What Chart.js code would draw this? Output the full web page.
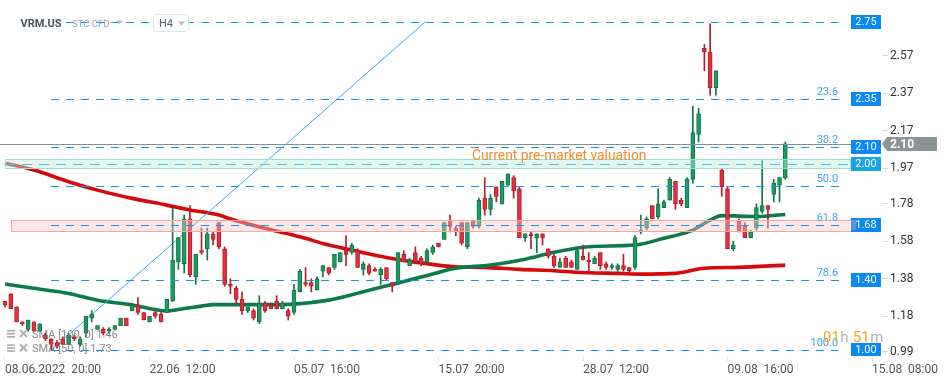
<!DOCTYPE html>
<html><head><meta charset="utf-8">
<script src="https://cdn.jsdelivr.net/npm/chart.js@4.4.1/dist/chart.umd.min.js"></script>
<style>html,body{margin:0;padding:0;background:#fff;overflow:hidden}#wrap{width:949px;height:381px}</style>
</head><body><div id="wrap"><canvas id="c" width="949" height="381"></canvas></div>
<script>
// ---------- data ----------
const xTickIdx = [0, 25, 50, 75, 100, 125, 150];
const xTickLabels = ['08.06.2022  20:00', '22.06  12:00', '05.07  16:00', '15.07  20:00', '28.07  12:00', '09.08  16:00', '15.08  08:00'];
const yTickVals = [0.99, 1.18, 1.38, 1.58, 1.78, 1.97, 2.17, 2.37, 2.57];

const opens = [1.26,1.30,1.23,1.15,1.11,1.15,1.10,1.08,1.06,1.04,
1.06,1.03,1.07,1.03,1.09,1.17,1.11,1.11,1.10,1.11,
1.13,1.17,1.21,1.24,1.20,1.15,1.20,1.19,1.20,1.26,
1.47,1.46,1.70,1.39,1.53,1.54,1.62,1.68,1.54,1.35,
1.33,1.27,1.21,1.21,1.15,1.25,1.24,1.26,1.22,1.21,
1.20,1.31,1.36,1.36,1.32,1.42,1.44,1.44,1.47,1.53,
1.52,1.53,1.43,1.45,1.43,1.40,1.44,1.36,1.35,1.51,
1.45,1.52,1.49,1.47,1.52,1.57,1.59,1.69,1.65,1.68,
1.55,1.69,1.66,1.81,1.75,1.87,1.78,1.88,1.92,1.86,
1.60,1.62,1.60,1.62,1.54,1.50,1.44,1.49,1.47,1.43,
1.50,1.48,1.46,1.52,1.46,1.44,1.43,1.45,1.44,1.44,
1.63,1.65,1.77,1.71,1.76,1.80,1.90,1.80,1.76,1.91,
2.15,2.61,2.59,2.40,1.96,1.86,1.54,1.69,1.66,1.60,
1.65,1.74,1.77,1.83,1.88,1.92];
const highs = [1.26,1.30,1.23,1.15,1.16,1.15,1.14,1.09,1.06,1.05,
1.07,1.09,1.08,1.07,1.18,1.21,1.13,1.12,1.12,1.13,
1.17,1.17,1.25,1.28,1.20,1.18,1.21,1.20,1.27,1.76,
1.60,1.72,1.77,1.51,1.65,1.65,1.63,1.68,1.55,1.38,
1.34,1.31,1.23,1.22,1.29,1.26,1.25,1.29,1.26,1.22,
1.35,1.43,1.44,1.38,1.39,1.45,1.44,1.51,1.52,1.61,
1.57,1.54,1.47,1.46,1.44,1.44,1.44,1.36,1.52,1.53,
1.49,1.55,1.50,1.54,1.56,1.57,1.68,1.72,1.66,1.68,
1.68,1.69,1.81,1.92,1.83,1.87,1.90,1.94,1.93,1.87,
1.62,1.63,1.62,1.62,1.54,1.51,1.49,1.50,1.48,1.54,
1.56,1.52,1.50,1.52,1.47,1.46,1.46,1.51,1.44,1.61,
1.72,1.71,1.77,1.86,1.80,1.92,1.90,1.81,1.92,2.30,
2.29,2.63,2.74,2.49,1.97,1.87,1.58,1.70,1.68,1.64,
1.78,2.01,1.77,1.91,1.92,2.11];
const lows = [1.23,1.22,1.15,1.13,1.10,1.10,1.10,1.05,1.00,1.01,
1.03,1.03,1.05,1.02,1.07,1.15,1.11,1.08,1.09,1.11,
1.13,1.13,1.21,1.19,1.16,1.15,1.17,1.15,1.20,1.26,
1.43,1.41,1.39,1.35,1.51,1.48,1.56,1.54,1.34,1.30,
1.25,1.19,1.20,1.16,1.14,1.20,1.22,1.22,1.22,1.16,
1.19,1.31,1.34,1.31,1.32,1.39,1.40,1.43,1.47,1.45,
1.51,1.44,1.40,1.40,1.42,1.35,1.37,1.31,1.35,1.47,
1.45,1.46,1.45,1.46,1.51,1.55,1.59,1.63,1.61,1.56,
1.54,1.65,1.65,1.72,1.72,1.79,1.78,1.88,1.81,1.60,
1.58,1.54,1.52,1.56,1.49,1.44,1.44,1.44,1.44,1.43,
1.48,1.42,1.46,1.43,1.43,1.43,1.42,1.42,1.41,1.43,
1.62,1.64,1.70,1.70,1.76,1.80,1.75,1.77,1.76,1.89,
2.11,2.49,2.36,2.36,1.82,1.54,1.53,1.63,1.60,1.60,
1.64,1.73,1.65,1.79,1.79,1.91];
const closes = [1.24,1.22,1.15,1.14,1.16,1.10,1.14,1.06,1.03,1.02,
1.03,1.08,1.06,1.06,1.18,1.19,1.13,1.09,1.11,1.13,
1.17,1.13,1.24,1.20,1.16,1.18,1.18,1.15,1.27,1.48,
1.60,1.70,1.40,1.51,1.52,1.62,1.59,1.55,1.35,1.34,
1.27,1.21,1.23,1.17,1.25,1.21,1.22,1.22,1.25,1.18,
1.32,1.42,1.35,1.34,1.38,1.45,1.41,1.51,1.52,1.51,
1.56,1.44,1.46,1.41,1.42,1.43,1.38,1.34,1.52,1.47,
1.48,1.47,1.46,1.53,1.55,1.55,1.68,1.66,1.63,1.57,
1.68,1.66,1.80,1.75,1.81,1.82,1.90,1.94,1.85,1.60,
1.62,1.61,1.62,1.60,1.50,1.45,1.47,1.44,1.44,1.53,
1.48,1.47,1.49,1.45,1.44,1.45,1.45,1.43,1.42,1.60,
1.64,1.70,1.70,1.78,1.79,1.91,1.78,1.78,1.91,2.16,
2.26,2.59,2.40,2.49,1.87,1.54,1.56,1.63,1.60,1.63,
1.76,1.77,1.75,1.89,1.92,2.10];

// SMA vertices (candle index -> value)
const sma100Idx = [0,5,11,16,22,28,32,37,39,45,51,56,60,66,72,78,83,89,95,101,106,110,116,121,127,135];
const sma100Val = [1.997,1.960,1.898,1.853,1.809,1.773,1.747,1.720,1.699,1.649,1.604,1.560,1.533,1.494,1.465,1.444,1.441,1.430,1.423,1.412,1.409,1.405,1.409,1.436,1.441,1.453];
const sma50Idx = [0,5,11,16,22,28,31,34,36,45,50,56,62,67,72,78,84,90,95,101,109,114,119,122,124,130,135];
const sma50Val = [1.352,1.329,1.302,1.266,1.240,1.208,1.221,1.234,1.242,1.242,1.245,1.266,1.311,1.350,1.389,1.436,1.453,1.484,1.521,1.551,1.560,1.596,1.640,1.693,1.717,1.712,1.723];

// drawing levels
const fibHigh = 2.75, fibLow = 1.00;
const fibPct = [0, 23.6, 38.2, 50.0, 61.8, 78.6, 100.0];
const fibPctText = ['', '23.6', '38.2', '50.0', '61.8', '78.6', '100.0'];
const fibBadgeText = ['2.75', '2.35', '2.10', '', '1.68', '1.40', '1.00'];
const fibLineIdx = [8, 145];
const fibTrendIdx = [8, 72.7];
const valuationBand = [1.97, 2.02];
const valuationLevel = 1.995;
const valuationBadge = '2.00';
const valuationIdx = [0, 146.2];
const valuationText = 'Current pre-market valuation';
const valuationTextIdx = 80.8;
const supportBand = [1.636, 1.692];
const supportIdx = [1.04, 147.0];
const lastPrice = 2.10;
const legendLines = ['SMA [100, 0] 1.46', 'SMA [50, 0] 1.73'];

// ---------- chart ----------
const FONT = 'Roboto, "Liberation Sans", sans-serif';
const UP_FILL = '#1f9a62', UP_LINE = '#0f7446', DN_FILL = '#e2303f', DN_LINE = '#b51c2a';
const idx = opens.map((_, i) => i);
const up = idx.map(i => closes[i] >= opens[i]);

const annot = {
  id: 'annot',
  afterDatasetsDraw(chart) {
    const {ctx, chartArea: a, scales} = chart;
    const X = v => scales.x.getPixelForValue(v);
    const Y = v => scales.y.getPixelForValue(v);
    const c = v => Math.round(v) + 0.5;
    ctx.save();
    ctx.beginPath(); ctx.rect(a.left, a.top, a.right - a.left, a.bottom - a.top); ctx.clip();
    const band = (lo, hi, i0, i1, fill, stroke) => {
      const x0 = c(X(i0)), x1 = c(X(i1)), y0 = c(Y(hi)), y1 = c(Y(lo));
      ctx.fillStyle = fill; ctx.fillRect(x0, y0, x1 - x0, y1 - y0);
      ctx.setLineDash([]); ctx.lineWidth = 1; ctx.strokeStyle = stroke;
      ctx.strokeRect(x0, y0, x1 - x0, y1 - y0);
    };
    const hline = (v, x0, x1, color, dash) => {
      const y = Math.round(Y(v));
      ctx.fillStyle = color;
      x0 = Math.round(x0); x1 = Math.round(x1);
      if (!dash) { ctx.fillRect(x0, y, x1 - x0, 1); return; }
      for (let x = x0; x < x1; x += dash[0] + dash[1]) ctx.fillRect(x, y, Math.min(dash[0], x1 - x), 1);
    };
    band(valuationBand[0], valuationBand[1], valuationIdx[0], valuationIdx[1], 'rgba(190,237,219,0.45)', '#9fe2ca');
    band(supportBand[0], supportBand[1], supportIdx[0], supportIdx[1], 'rgba(250,198,198,0.42)', '#f4a7a7');
    hline(valuationLevel, X(valuationIdx[0]), X(valuationIdx[1]), '#5cbfea', [10, 7]);

    const badgeX = a.right - 31;
    hline(lastPrice, a.left, badgeX, '#87908f', null);

    ctx.font = '11px ' + FONT;
    fibPct.forEach((p, k) => {
      const v = fibHigh - p / 100 * (fibHigh - fibLow);
      hline(v, X(fibLineIdx[0]), X(fibLineIdx[1]), '#1297ec', [8, 7]);
      if (fibPctText[k]) {
        ctx.fillStyle = '#3aa6e3'; ctx.textAlign = 'right'; ctx.textBaseline = 'alphabetic';
        ctx.fillText(fibPctText[k], X(fibLineIdx[1]) - 5, Math.round(Y(v)) - 4);
      }
    });
    ctx.font = '13.8px ' + FONT; ctx.fillStyle = '#f28a2e'; ctx.textAlign = 'left'; ctx.textBaseline = 'alphabetic';
    ctx.fillText(valuationText, X(valuationTextIdx), Math.round(Y(valuationBand[1])) + 1);

    const badge = (v, text, color) => {
      const yc = Math.round(Y(v));
      ctx.fillStyle = color; ctx.fillRect(badgeX, yc - 7, 30, 14);
      ctx.fillStyle = '#ffffff'; ctx.font = '11px ' + FONT; ctx.textAlign = 'center'; ctx.textBaseline = 'middle';
      ctx.fillText(text, badgeX + 15, yc + 0.5);
    };
    fibPct.forEach((p, k) => {
      if (fibBadgeText[k]) badge(fibHigh - p / 100 * (fibHigh - fibLow), fibBadgeText[k], '#0a88f3');
    });
    badge(valuationLevel, valuationBadge, '#17a3e6');
    const sy = Math.round(Y(fibHigh - 0.618 * (fibHigh - fibLow)));
    ctx.fillStyle = '#5b93d8'; ctx.fillRect(badgeX, sy - 5, 5, 10);
    ctx.restore();
  },
  afterDraw(chart) {
    const {ctx, chartArea: a, scales} = chart;
    const Y = v => scales.y.getPixelForValue(v);
    ctx.save();
    const yc = Math.round(Y(lastPrice));
    ctx.fillStyle = '#8b9597';
    ctx.beginPath();
    ctx.moveTo(a.right, yc); ctx.lineTo(a.right + 5, yc - 7); ctx.lineTo(a.right + 55, yc - 7);
    ctx.lineTo(a.right + 55, yc + 7); ctx.lineTo(a.right + 5, yc + 7); ctx.closePath(); ctx.fill();
    ctx.fillStyle = '#ffffff'; ctx.font = 'bold 12px ' + FONT; ctx.textAlign = 'left'; ctx.textBaseline = 'middle';
    ctx.fillText(lastPrice.toFixed(2), a.right + 8, yc + 0.5);

    // header
    ctx.fillStyle = '#ffffff'; ctx.fillRect(15, 14, 51, 17);
    ctx.font = 'bold 11px ' + FONT; ctx.fillStyle = '#47525c'; ctx.textBaseline = 'alphabetic'; ctx.textAlign = 'left';
    ctx.fillText('VRM.US', 20.5, 26.5);
    ctx.font = '9.5px ' + FONT; ctx.fillStyle = '#9aa3ab';
    ctx.fillText('STC CFD', 72, 26.5);
    const tri = (x, y, col) => { ctx.fillStyle = col; ctx.beginPath(); ctx.moveTo(x, y); ctx.lineTo(x + 7, y); ctx.lineTo(x + 3.5, y + 4); ctx.closePath(); ctx.fill(); };
    tri(116, 20.5, '#b5bcc2');
    ctx.fillStyle = '#ffffff'; ctx.strokeStyle = '#dfe3e7'; ctx.lineWidth = 1;
    ctx.beginPath(); ctx.roundRect(153.5, 14.5, 35, 17, 3); ctx.fill(); ctx.stroke();
    ctx.font = '11px ' + FONT; ctx.fillStyle = '#56616b';
    ctx.fillText('H4', 159, 27);
    tri(178, 21.5, '#b5bcc2');

    // indicator legend
    ctx.font = '11px ' + FONT;
    legendLines.forEach((t, k) => {
      const base = 338 + k * 14.3;
      ctx.fillStyle = 'rgba(160,160,160,0.85)';
      for (let r = 0; r < 3; r++) ctx.fillRect(7, base - 8 + r * 3, 8, 1.6);
      ctx.strokeStyle = 'rgba(170,170,170,0.9)'; ctx.lineWidth = 2;
      ctx.beginPath(); ctx.moveTo(20, base - 8); ctx.lineTo(27, base - 1); ctx.moveTo(27, base - 8); ctx.lineTo(20, base - 1); ctx.stroke();
      ctx.fillStyle = 'rgba(110,110,110,0.8)'; ctx.textAlign = 'left'; ctx.textBaseline = 'alphabetic';
      ctx.fillText(t, 32, base);
    });

    // countdown
    ctx.font = '15px ' + FONT; ctx.textBaseline = 'alphabetic'; ctx.textAlign = 'left';
    const parts = [['01', '#f7a21b'], ['h', '#b3b3b3'], [' 51', '#f7a21b'], ['m', '#b3b3b3']];
    let cx = 823;
    parts.forEach(([t, col]) => { ctx.fillStyle = col; ctx.fillText(t, cx, 342); cx += ctx.measureText(t).width + 0.5; });
    ctx.restore();
  }
};

new Chart(document.getElementById('c'), {
  type: 'bar',
  data: {
    datasets: [
      { type: 'bar', label: 'body', data: idx.map(i => ({x: i, y: [opens[i], closes[i]]})),
        backgroundColor: up.map(u => u ? UP_FILL : DN_FILL), borderColor: up.map(u => u ? UP_LINE : DN_LINE),
        borderWidth: 1, borderSkipped: false, barThickness: 4, grouped: false, minBarLength: 1, order: 0 },
      { type: 'bar', label: 'wick', data: idx.map(i => ({x: i, y: [lows[i], highs[i]]})),
        backgroundColor: up.map(u => u ? UP_LINE : DN_LINE), borderWidth: 0, barThickness: 1, grouped: false, order: 1 },
      { type: 'line', label: 'fib', data: [{x: fibTrendIdx[0], y: fibLow}, {x: fibTrendIdx[1], y: fibHigh}],
        borderColor: '#36aaf0', borderWidth: 1, pointRadius: 0, order: 2 },
      { type: 'line', label: 'SMA 50', data: sma50Idx.map((v, k) => ({x: v, y: sma50Val[k]})),
        borderColor: '#0d7a4a', borderWidth: 3.6, pointRadius: 0, tension: 0.35, cubicInterpolationMode: 'monotone', order: 3 },
      { type: 'line', label: 'SMA 100', data: sma100Idx.map((v, k) => ({x: v, y: sma100Val[k]})),
        borderColor: '#d30b0b', borderWidth: 3.6, pointRadius: 0, tension: 0.35, cubicInterpolationMode: 'monotone', order: 4 }
    ]
  },
  options: {
    responsive: false, animation: false, devicePixelRatio: 1,
    layout: {padding: 0, autoPadding: false},
    plugins: {legend: {display: false}, tooltip: {enabled: false}},
    scales: {
      x: {
        type: 'linear', min: -0.865, max: 151.73, offset: false,
        grid: {display: true, drawOnChartArea: false, drawTicks: true, tickLength: 5, color: '#e2e2e2', offset: false},
        border: {display: false},
        afterBuildTicks: s => { s.ticks = xTickIdx.map(v => ({value: v})); },
        afterFit: s => { s.height = 25; s.paddingLeft = 0; s.paddingRight = 0; },
        ticks: {autoSkip: false, maxRotation: 0, minRotation: 0, align: 'start', padding: 2, color: '#555',
          font: {family: FONT, size: 12},
          callback: v => { const k = xTickIdx.indexOf(v); return k >= 0 ? xTickLabels[k] : ''; }}
      },
      y: {
        type: 'linear', position: 'right', min: 0.968, max: 2.8674, beginAtZero: false,
        grid: {drawOnChartArea: false, drawTicks: true, tickLength: 6, color: '#dcdcdc'},
        border: {display: false},
        afterBuildTicks: s => { s.ticks = yTickVals.map(v => ({value: v})); },
        afterFit: s => { s.width = 67; s.paddingTop = 0; s.paddingBottom = 0; },
        ticks: {padding: 2, color: '#333', font: {family: FONT, size: 12}, callback: v => Number(v).toFixed(2)}
      }
    }
  },
  plugins: [annot]
});
</script>
</body></html>
